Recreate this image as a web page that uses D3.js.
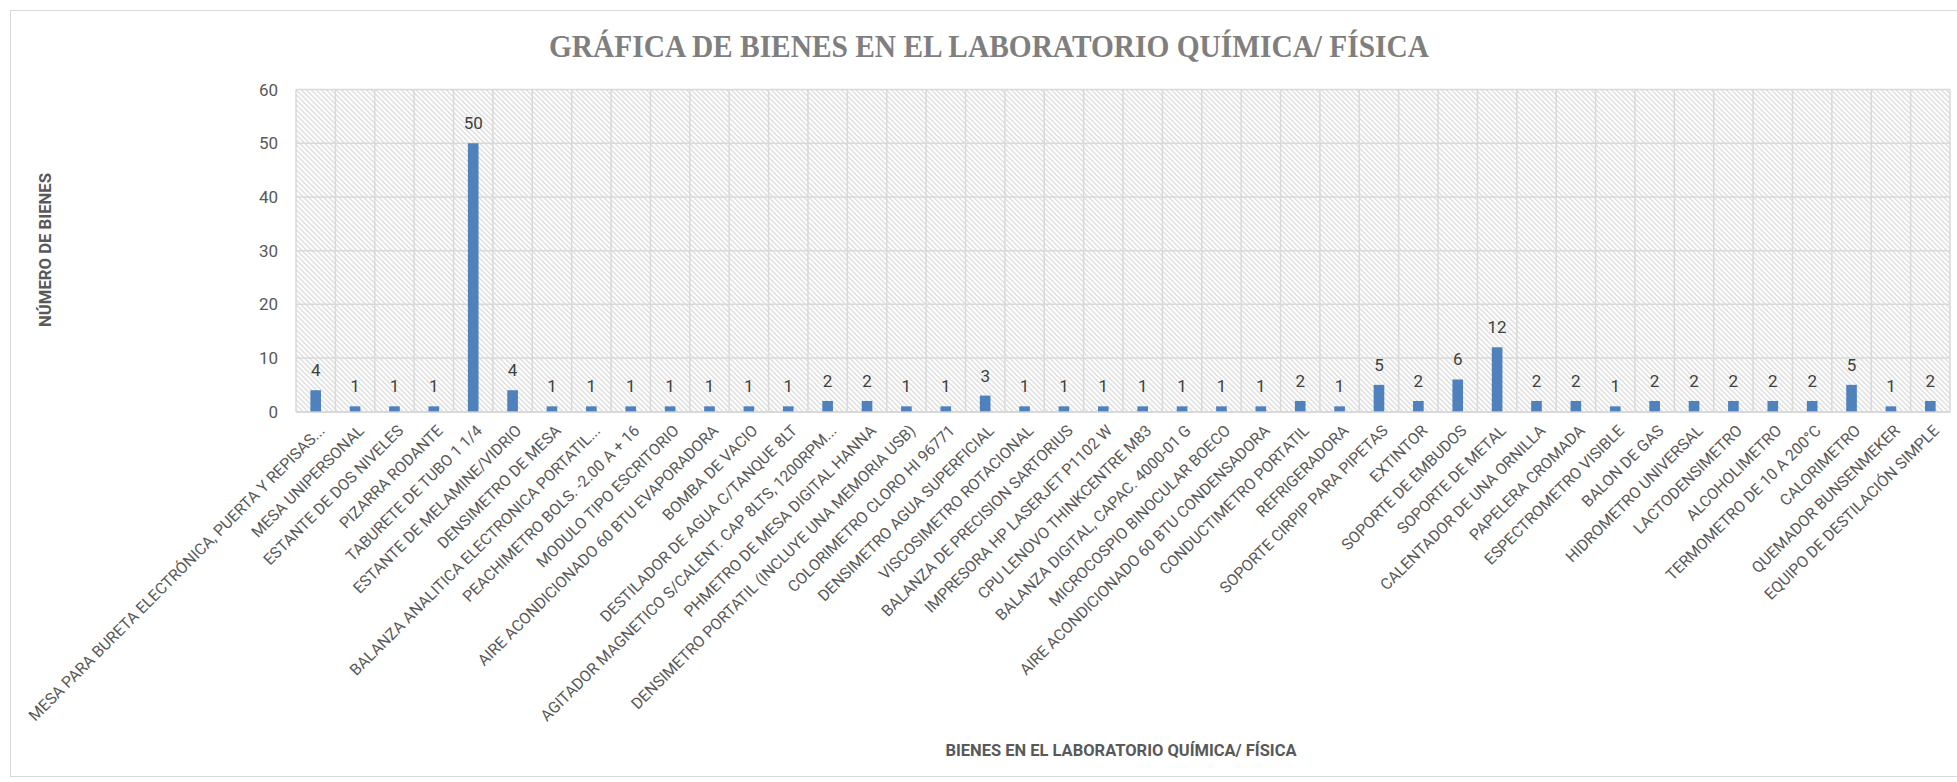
<!DOCTYPE html>
<html>
<head>
<meta charset="utf-8">
<script src="https://cdn.jsdelivr.net/npm/d3@7"></script>
<style>
  body { margin: 0; background: #fff; }
  svg { display: block; }
  .lbl { font-family: "Roboto", "Liberation Sans", sans-serif; }
</style>
</head>
<body>
<script>
// chart data
const titleText = "GRÁFICA DE BIENES EN EL LABORATORIO QUÍMICA/ FÍSICA";
const xTitle = "BIENES EN EL LABORATORIO QUÍMICA/  FÍSICA";
const yTitle = "NÚMERO DE BIENES";

const bienes = [
  "MESA PARA BURETA ELECTRÓNICA, PUERTA Y REPISAS...",
  "MESA UNIPERSONAL",
  "ESTANTE DE DOS NIVELES",
  "PIZARRA RODANTE",
  "TABURETE DE TUBO 1 1/4",
  "ESTANTE DE MELAMINE/VIDRIO",
  "DENSIMETRO DE MESA",
  "BALANZA ANALITICA ELECTRONICA PORTATIL...",
  "PEACHIMETRO BOLS. -2.00 A + 16",
  "MODULO TIPO ESCRITORIO",
  "AIRE ACONDICIONADO 60 BTU EVAPORADORA",
  "BOMBA DE VACIO",
  "DESTILADOR DE AGUA C/TANQUE 8LT",
  "AGITADOR MAGNETICO S/CALENT. CAP 8LTS, 1200RPM...",
  "PHMETRO DE MESA DIGITAL HANNA",
  "DENSIMETRO PORTATIL (INCLUYE UNA MEMORIA USB)",
  "COLORIMETRO CLORO HI 96771",
  "DENSIMETRO AGUA SUPERFICIAL",
  "VISCOSIMETRO ROTACIONAL",
  "BALANZA DE PRECISION SARTORIUS",
  "IMPRESORA HP LASERJET P1102 W",
  "CPU LENOVO THINKCENTRE M83",
  "BALANZA DIGITAL, CAPAC. 4000-01 G",
  "MICROCOSPIO BINOCULAR BOECO",
  "AIRE ACONDICIONADO 60 BTU CONDENSADORA",
  "CONDUCTIMETRO PORTATIL",
  "REFRIGERADORA",
  "SOPORTE CIRPIP PARA PIPETAS",
  "EXTINTOR",
  "SOPORTE DE EMBUDOS",
  "SOPORTE DE METAL",
  "CALENTADOR DE UNA ORNILLA",
  "PAPELERA CROMADA",
  "ESPECTROMETRO VISIBLE",
  "BALON DE GAS",
  "HIDROMETRO UNIVERSAL",
  "LACTODENSIMETRO",
  "ALCOHOLIMETRO",
  "TERMOMETRO DE 10 A 200°C",
  "CALORIMETRO",
  "QUEMADOR BUNSENMEKER",
  "EQUIPO DE DESTILACIÓN SIMPLE"
];

const cantidades = [4, 1, 1, 1, 50, 4, 1, 1, 1, 1, 1, 1, 1, 2, 2, 1, 1, 3, 1, 1, 1,
  1, 1, 1, 1, 2, 1, 5, 2, 6, 12, 2, 2, 1, 2, 2, 2, 2, 2, 5, 1, 2];

const yTicks = [0, 10, 20, 30, 40, 50, 60];

const W = 1957, H = 782;
const margin = { top: 89.6, left: 296, right: W - 1950, bottom: H - 411.7 };
const width = W - margin.left - margin.right;
const height = H - margin.top - margin.bottom;

const svg = d3.select("body").append("svg")
  .attr("width", W)
  .attr("height", H);

// hatch pattern for the plot area
const defs = svg.append("defs");
const pat = defs.append("pattern")
  .attr("id", "hatch")
  .attr("patternUnits", "userSpaceOnUse")
  .attr("width", 5)
  .attr("height", 5);
pat.append("rect").attr("width", 5).attr("height", 5).attr("fill", "#fff");
pat.append("path")
  .attr("d", "M-1,-1 L6,6 M-1,4 L1,6 M4,-1 L6,1")
  .attr("stroke", "#d2d2d2")
  .attr("stroke-width", 1.1);

// chart border
svg.append("rect")
  .attr("x", 10.5).attr("y", 10.5)
  .attr("width", W).attr("height", H - 16)
  .attr("fill", "none")
  .attr("stroke", "#d9d9d9");

svg.append("text")
  .attr("x", 989).attr("y", 57)
  .attr("text-anchor", "middle")
  .attr("textLength", 880)
  .attr("lengthAdjust", "spacingAndGlyphs")
  .style("font-family", "'Liberation Serif', 'DejaVu Serif', serif")
  .style("font-weight", "bold")
  .style("font-size", "32px")
  .style("fill", "#7f7f7f")
  .text(titleText);

const g = svg.append("g")
  .attr("transform", "translate(" + margin.left + "," + margin.top + ")");

const x = d3.scaleBand()
  .domain(bienes)
  .range([0, width])
  .padding(0);

const y = d3.scaleLinear()
  .domain([0, 60])
  .range([height, 0]);

g.append("rect")
  .attr("width", width)
  .attr("height", height)
  .attr("fill", "url(#hatch)");

// horizontal gridlines
g.append("g")
  .selectAll("line")
  .data(yTicks)
  .enter().append("line")
  .attr("x1", 0).attr("x2", width)
  .attr("y1", d => y(d)).attr("y2", d => y(d))
  .attr("stroke", "#d9d9d9")
  .attr("stroke-width", 1.5);

// vertical gridlines at category edges
g.append("g")
  .selectAll("line")
  .data(bienes.map((b, i) => i).concat([bienes.length]))
  .enter().append("line")
  .attr("x1", d => d * x.step()).attr("x2", d => d * x.step())
  .attr("y1", 0).attr("y2", height)
  .attr("stroke", "#d9d9d9")
  .attr("stroke-width", 1.5);

const yAxis = d3.axisLeft(y)
  .tickValues(yTicks)
  .tickSize(0)
  .tickPadding(18);

g.append("g")
  .attr("class", "y axis lbl")
  .call(yAxis)
  .call(s => s.select(".domain").remove())
  .selectAll("text")
  .style("font-size", "17px")
  .style("fill", "#595959");

const barW = x.bandwidth() * 0.27;

g.selectAll(".bar")
  .data(cantidades)
  .enter().append("rect")
  .attr("class", "bar")
  .attr("x", (d, i) => x(bienes[i]) + x.bandwidth() / 2 - barW / 2)
  .attr("y", d => y(d))
  .attr("width", barW)
  .attr("height", d => height - y(d))
  .attr("fill", "#4f81bd");

g.selectAll(".val")
  .data(cantidades)
  .enter().append("text")
  .attr("class", "val lbl")
  .attr("x", (d, i) => x(bienes[i]) + x.bandwidth() / 2)
  .attr("y", d => y(d) - 14)
  .attr("text-anchor", "middle")
  .style("font-size", "17px")
  .style("fill", "#404040")
  .text(d => d);

// category labels rotated -45
const xAxis = d3.axisBottom(x).tickSize(0).tickPadding(0);
g.append("g")
  .attr("class", "x axis lbl")
  .attr("transform", "translate(0," + height + ")")
  .call(xAxis)
  .call(s => s.select(".domain").attr("stroke", "#d9d9d9").attr("stroke-width", 1.5))
  .selectAll("text")
  .attr("text-anchor", "end")
  .attr("transform", "translate(6,16) rotate(-45)")
  .attr("dy", "0.35em")
  .attr("y", 0)
  .style("font-size", "15.8px")
  .style("fill", "#595959");

svg.append("text")
  .attr("class", "lbl")
  .attr("x", 1121).attr("y", 756)
  .attr("text-anchor", "middle")
  .attr("textLength", 351)
  .attr("lengthAdjust", "spacingAndGlyphs")
  .style("font-size", "16px")
  .style("font-weight", "bold")
  .style("fill", "#595959")
  .text(xTitle);

svg.append("text")
  .attr("class", "lbl")
  .attr("transform", "translate(51,250) rotate(-90)")
  .attr("text-anchor", "middle")
  .attr("textLength", 154)
  .attr("lengthAdjust", "spacingAndGlyphs")
  .style("font-size", "16px")
  .style("font-weight", "bold")
  .style("fill", "#595959")
  .text(yTitle);
</script>
</body>
</html>
